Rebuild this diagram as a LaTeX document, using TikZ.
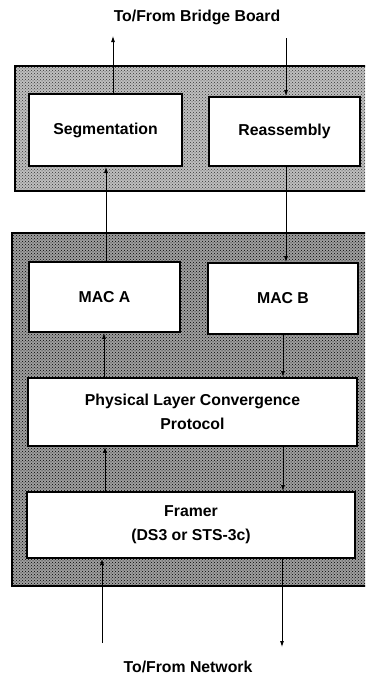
\documentclass[tikz,border=0pt]{standalone}
\usepackage{fontspec}
\setmainfont{Liberation Sans}
\usetikzlibrary{arrows.meta,patterns}
\begin{document}
\begin{tikzpicture}[x=1pt,y=-1pt,
  every node/.style={font=\fontsize{15.8}{24}\selectfont\bfseries},
  blk/.style={draw=black,line width=1.8pt,fill=white,inner sep=0pt,align=center},
  panel/.style={draw=black,line width=1.8pt},
  conn/.style={line width=0.8pt,-{Latex[length=6pt,width=4pt]}},
  lbl/.style={inner sep=0pt}]
\clip (0,0) rectangle (365,678);
\fill[white] (0,0) rectangle (365,678);
% panels
\fill[gray!50] (15,66) rectangle (372,191);
\fill[pattern=crosshatch dots,pattern color=black!80] (15,66) rectangle (372,191);
\draw[panel] (15,66) rectangle (372,191);
\fill[gray!75] (12,233) rectangle (372,586);
\fill[pattern=crosshatch dots,pattern color=black] (12,233) rectangle (372,586);
\draw[panel] (12,233) rectangle (372,586);
% blocks
\node[blk,minimum width=153pt,minimum height=72pt] (seg) at (105.5,130) {Segmentation};
\node[blk,minimum width=151pt,minimum height=69pt] (reas) at (284.5,131.5) {Reassembly};
\node[blk,minimum width=151pt,minimum height=70pt] (maca) at (104.5,297) {MAC A};
\node[blk,minimum width=150pt,minimum height=71pt] (macb) at (283,298.5) {MAC B};
\node[blk,minimum width=329pt,minimum height=68pt] (plcp) at (192.5,412) {Physical Layer Convergence\\Protocol};
\node[blk,minimum width=328pt,minimum height=66pt] (fram) at (191,525) {Framer\\(DS3 or STS-3c)};
% labels
\node[lbl] (top) at (197,17) {To/From Bridge Board};
\node[lbl] (bot) at (188,667) {To/From Network};
% free ends
\coordinate (tl) at (113,36);
\coordinate (tr) at (286,38);
\coordinate (bl) at (102,643);
\coordinate (br) at (282,647);
% connectors top
\draw[conn] (seg.north -| tl) -- (tl);
\draw[conn] (tr) -- (reas.north -| tr);
% seg / maca
\draw[conn] (maca.north -| 106,0) -- (seg.south -| 106,0);
\draw[conn] (reas.south -| 286,0) -- (macb.north -| 286,0);
% mac / plcp
\draw[conn] (plcp.north -| 104,0) -- (maca.south -| 104,0);
\draw[conn] (macb.south -| 283,0) -- (plcp.north -| 283,0);
% plcp / framer
\draw[conn] (fram.north -| 105,0) -- (plcp.south -| 105,0);
\draw[conn] (plcp.south -| 283,0) -- (fram.north -| 283,0);
% framer / network
\draw[conn] (bl) -- (fram.south -| bl);
\draw[conn] (fram.south -| br) -- (br);
\end{tikzpicture}
\end{document}
